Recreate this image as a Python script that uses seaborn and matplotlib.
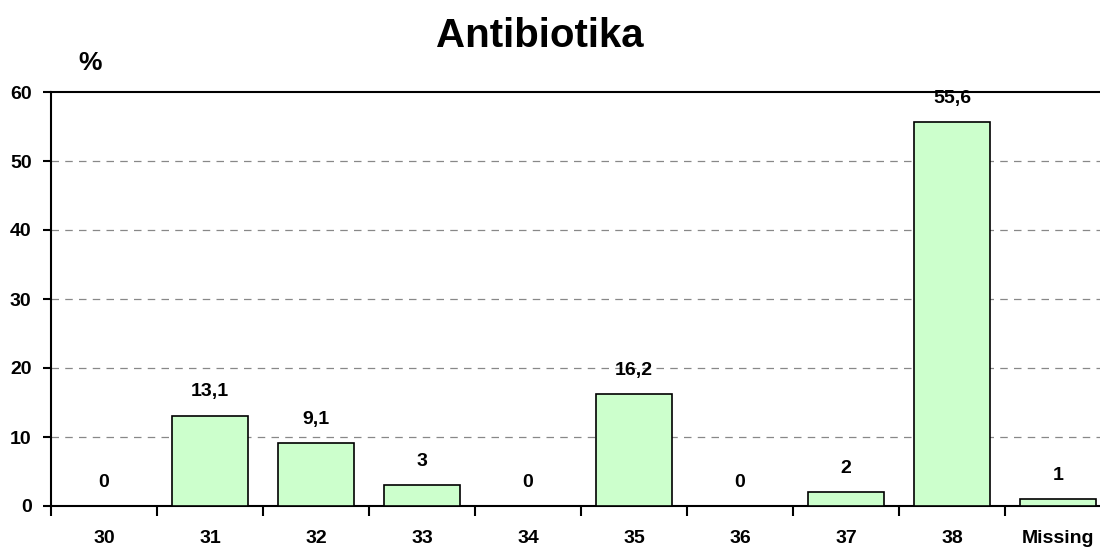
import matplotlib
matplotlib.use("Agg")
import matplotlib.pyplot as plt
import seaborn as sns
import pandas as pd

categories = ["30", "31", "32", "33", "34", "35", "36", "37", "38", "Missing"]
values = [0, 13.1, 9.1, 3, 0, 16.2, 0, 2, 55.6, 1]
y_ticks = [0, 10, 20, 30, 40, 50, 60]

sns.set_theme(style="white")
plt.rcParams["font.family"] = ["Liberation Sans", "DejaVu Sans"]
plt.rcParams["font.weight"] = "bold"
plt.rcParams["text.color"] = "black"
plt.rcParams["xtick.color"] = "black"
plt.rcParams["ytick.color"] = "black"
plt.rcParams["xtick.labelcolor"] = "black"
plt.rcParams["ytick.labelcolor"] = "black"

df = pd.DataFrame({"cat": categories, "val": values})

fig = plt.figure(figsize=(11, 5.48), dpi=100)
ax = fig.add_axes([51 / 1100, 42 / 548, 1060 / 1100, 414 / 548])

sns.barplot(data=df, x="cat", y="val", color="#CCFFCC", saturation=1,
            edgecolor="black", linewidth=1.2, width=0.72, ax=ax, zorder=3)

ax.set_xlim(-0.5, len(categories) - 0.5)
ax.set_ylim(0, 60)
ax.set_yticks(y_ticks)
ax.set_yticklabels([str(t) for t in y_ticks], fontsize=14, fontweight="bold",
                   color="black")

# Category labels sit centered, tick marks sit between categories
ax.set_xticks(range(len(categories)))
ax.set_xticklabels(categories, fontsize=14, fontweight="bold", color="black")
ax.tick_params(axis="x", which="major", length=0, pad=17)
ax.set_xticks([i + 0.5 for i in range(-1, len(categories))], minor=True)
ax.tick_params(axis="x", which="minor", length=7, width=1.5, color="black",
               direction="out", bottom=True)
ax.tick_params(axis="y", length=6, width=1.5, color="black", direction="out",
               left=True, pad=8)

ax.set_xlabel("")
ax.set_ylabel("")

for y in y_ticks[1:-1]:
    ax.axhline(y, color="#888888", linestyle=(0, (6, 5)), linewidth=0.9, zorder=1)

for side in ["left", "bottom", "top"]:
    ax.spines[side].set_visible(True)
    ax.spines[side].set_color("black")
    ax.spines[side].set_linewidth(1.5)
ax.spines["right"].set_visible(False)

for i, v in enumerate(values):
    label = f"{v:g}".replace(".", ",")
    ax.annotate(label, xy=(i, v), xytext=(0, 14), textcoords="offset points",
                ha="center", va="baseline", fontsize=14, fontweight="bold",
                color="black", zorder=5)

fig.text(540 / 1100, 1 - 47 / 548, "Antibiotika", ha="center", va="baseline",
         fontsize=29, fontweight="bold", color="black")
fig.text(90 / 1100, 1 - 70 / 548, "%", ha="center", va="baseline",
         fontsize=19, fontweight="bold", color="black")

fig.savefig("out.png", dpi=100)
